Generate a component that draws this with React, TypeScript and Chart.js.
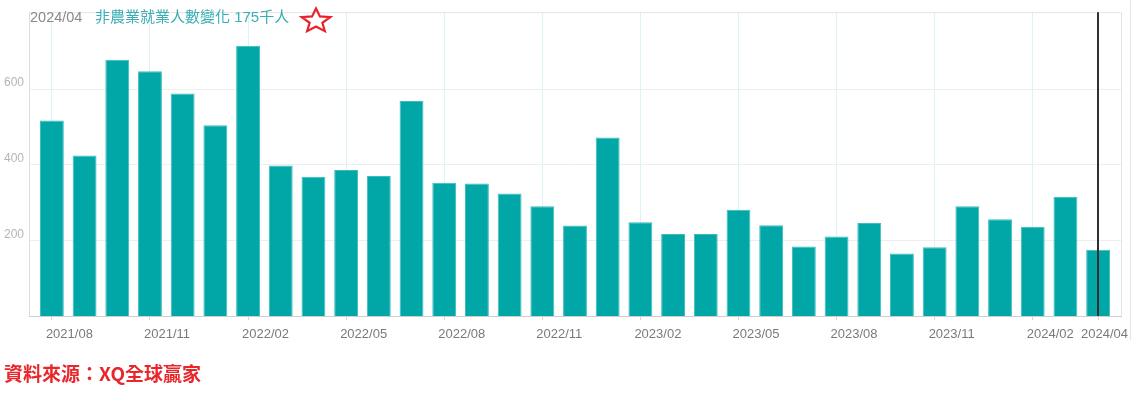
import React, { useEffect, useRef } from "react";
import { Chart, registerables } from "chart.js";

Chart.register(...registerables);

const months: string[] = [
  "2021/08", "2021/09", "2021/10", "2021/11", "2021/12",
  "2022/01", "2022/02", "2022/03", "2022/04", "2022/05", "2022/06",
  "2022/07", "2022/08", "2022/09", "2022/10", "2022/11", "2022/12",
  "2023/01", "2023/02", "2023/03", "2023/04", "2023/05", "2023/06",
  "2023/07", "2023/08", "2023/09", "2023/10", "2023/11", "2023/12",
  "2024/01", "2024/02", "2024/03", "2024/04",
];

const payrolls: number[] = [
  517, 424, 677, 647, 588,
  504, 714, 398, 368, 386, 370,
  568, 352, 350, 324, 290, 239,
  472, 248, 217, 217, 281, 240,
  184, 210, 246, 165, 182, 290,
  256, 236, 315, 175,
];

const xTickIndex: number[] = [0, 3, 6, 9, 12, 15, 18, 21, 24, 27, 30, 32];
const yTickValues: number[] = [200, 400, 600];

const titleDate = "2024/04";
const titleText = "非農業就業人數變化 175千人";
const sourceText = "資料來源：XQ全球贏家";
const markerIndex = 32;

const overlayPlugin = {
  id: "overlay",
  beforeDatasetsDraw(chart: any) {
    const { ctx, chartArea } = chart;
    ctx.save();
    ctx.strokeStyle = "#e4e4e4";
    ctx.lineWidth = 1;
    ctx.beginPath();
    ctx.moveTo(chartArea.left, chartArea.top + 0.5);
    ctx.lineTo(chartArea.right + 0.5, chartArea.top + 0.5);
    ctx.lineTo(chartArea.right + 0.5, chartArea.bottom);
    ctx.stroke();
    ctx.restore();
  },
  afterDatasetsDraw(chart: any) {
    const { ctx, chartArea } = chart;
    const xs = chart.scales.x;
    const x = Math.round(xs.getPixelForValue(markerIndex));
    ctx.save();
    ctx.strokeStyle = "#2f2f2f";
    ctx.lineWidth = 2;
    ctx.beginPath();
    ctx.moveTo(x, chartArea.top);
    ctx.lineTo(x, chartArea.bottom);
    ctx.stroke();
    ctx.restore();
  },
  afterDraw(chart: any) {
    const { ctx } = chart;
    const xs = chart.scales.x;
    ctx.save();
    // x tick labels: left aligned slightly before tick, clamped to the right edge
    ctx.font = '13px "Liberation Sans", Arial, sans-serif';
    ctx.fillStyle = "#7a7a7a";
    ctx.textBaseline = "middle";
    ctx.textAlign = "left";
    const rightLimit = chart.width - 8;
    xTickIndex.forEach((idx) => {
      const label = months[idx];
      const w = ctx.measureText(label).width;
      const px = xs.getPixelForValue(idx);
      const x = Math.min(px - 6, rightLimit - w);
      ctx.fillText(label, x, 334);
    });

    ctx.textBaseline = "middle";
    ctx.textAlign = "left";
    ctx.font = '14.5px "Liberation Sans", Arial, sans-serif';
    ctx.fillStyle = "#8a8a8a";
    ctx.fillText(titleDate, 30, 18);
    ctx.font = '15px "Liberation Sans", "Noto Sans CJK TC", sans-serif';
    ctx.fillStyle = "#3aaeb4";
    ctx.fillText(titleText, 95, 18);
    const cx = 316, cy = 21, R = 12.5, r = 5.6, sx = 1.2;
    ctx.beginPath();
    for (let i = 0; i < 10; i++) {
      const ang = -Math.PI / 2 + (i * Math.PI) / 5;
      const rad = i % 2 === 0 ? R : r;
      const px = cx + sx * rad * Math.cos(ang);
      const py = cy + rad * Math.sin(ang);
      if (i === 0) ctx.moveTo(px, py);
      else ctx.lineTo(px, py);
    }
    ctx.closePath();
    ctx.strokeStyle = "#e8222b";
    ctx.lineWidth = 2.2;
    ctx.lineJoin = "miter";
    ctx.stroke();
    ctx.restore();
  },
};

export default function App() {
  const canvasRef = useRef<HTMLCanvasElement | null>(null);

  useEffect(() => {
    if (!canvasRef.current) return;
    const chart = new Chart(canvasRef.current, {
      type: "bar",
      data: {
        datasets: [
          {
            data: payrolls.map((v, i) => ({ x: i, y: v })),
            backgroundColor: "#01a6a7",
            borderColor: "#3dbcbd",
            borderWidth: 1,
            barPercentage: 0.73,
            categoryPercentage: 1,
          },
        ],
      },
      options: {
        responsive: false,
        animation: false,
        devicePixelRatio: 1,
        layout: { padding: { top: 7, right: 15, left: 0, bottom: 0 } },
        plugins: {
          legend: { display: false },
          tooltip: { enabled: false },
          title: { display: false },
        },
        scales: {
          x: {
            type: "linear",
            offset: false,
            min: -0.7,
            max: 32.7,
            afterBuildTicks: (scale: any) => {
              scale.ticks = xTickIndex.map((v) => ({ value: v }));
            },
            afterFit: (scale: any) => {
              scale.height = 80;
            },
            ticks: {
              display: false,
              autoSkip: false,
            },
            grid: {
              offset: false,
              drawOnChartArea: true,
              drawTicks: true,
              color: (ctx: any) =>
                ctx.tick && ctx.tick.value === markerIndex ? "rgba(0,0,0,0)" : "#ddf2f6",
              tickColor: "#d6d6d6",
              tickLength: 4,
            },
            border: { display: true, color: "#cfcfcf", width: 1 },
          },
          y: {
            min: 0,
            max: 803,
            afterBuildTicks: (scale: any) => {
              scale.ticks = yTickValues.map((v) => ({ value: v }));
            },
            afterFit: (scale: any) => {
              scale.width = 29;
            },
            ticks: {
              padding: 5,
              labelOffset: -6,
              color: "#b5b5b5",
              font: { size: 12, family: '"Liberation Sans", Arial, sans-serif' },
            },
            grid: {
              color: "#eeeeee",
              drawTicks: false,
            },
            border: { display: true, color: "#dddddd", width: 1 },
          },
        },
      },
      plugins: [overlayPlugin],
    } as any);
    return () => chart.destroy();
  }, []);

  return (
    <div
      style={{
        position: "absolute",
        left: 0,
        top: 0,
        width: 1136,
        height: 396,
        background: "#ffffff",
        overflow: "hidden",
      }}
    >
      <canvas ref={canvasRef} width={1136} height={396} style={{ position: "absolute", left: 0, top: 0 }} />
      <div
        style={{
          position: "absolute",
          left: 1130,
          top: 0,
          width: 1,
          height: 340,
          background: "#e6e6e6",
        }}
      />
      <div
        style={{
          position: "absolute",
          left: 4,
          top: 363,
          fontSize: 19,
          lineHeight: "19px",
          fontWeight: 700,
          color: "#e8262b",
          fontFamily: '"Noto Sans CJK TC", "Noto Sans CJK SC", sans-serif',
          whiteSpace: "nowrap",
        }}
      >
        {sourceText}
      </div>
    </div>
  );
}
